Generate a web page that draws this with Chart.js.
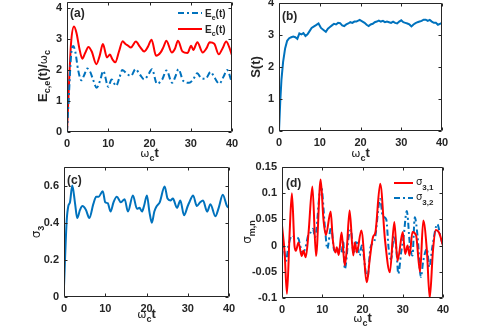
<!DOCTYPE html>
<html>
<head>
<meta charset="utf-8">
<script src="https://cdn.jsdelivr.net/npm/chart.js@4.4.0/dist/chart.umd.min.js"></script>
<style>
    html, body { margin: 0; padding: 0; background: #fff; }
    #wrap { position: relative; width: 491px; height: 330px; }
    #wrap canvas { position: absolute; left: 0; top: 0; }
</style>
</head>
<body>
<div id="wrap">
    <canvas id="chartA" width="491" height="330"></canvas>
    <canvas id="chartB" width="491" height="330"></canvas>
    <canvas id="chartC" width="491" height="330"></canvas>
    <canvas id="chartD" width="491" height="330"></canvas>
</div>
<script>
// eixo x comum
const xTicks = [0, 10, 20, 30, 40];

// (a) energias
const ecT = [0, 0.5, 1, 1.7, 2.3, 3, 3.7, 4.4, 5.2, 6, 7.1, 7.9, 8.7, 9.7, 10.4, 11, 11.7, 12.6, 13.5, 14.1, 14.7, 15.5, 16.7, 17.7, 18.7, 19.6, 20.5, 21.6, 22.7, 23.4, 24.1, 25.4, 26.2, 26.9, 28, 29.2, 30.1, 30.6, 31.6, 32.9, 33.8, 34.6, 35.7, 36.8, 37.7, 38.6, 39.3, 40];
const ecY = [0, 1.6, 2.9, 3.41, 3.2, 2.7, 2.37, 2.55, 2.75, 2.6, 2.19, 2.45, 2.84, 2.41, 2.5, 2.35, 2.25, 2.6, 2.93, 2.85, 2.8, 2.73, 2.92, 2.75, 2.6, 2.75, 2.98, 2.46, 2.57, 2.75, 2.95, 2.57, 2.7, 2.95, 2.6, 2.55, 2.79, 2.65, 2.9, 2.57, 2.7, 2.9, 2.85, 2.51, 2.7, 2.92, 2.75, 2.48];
const eeT = [0, 0.5, 1, 1.5, 2, 2.7, 3.5, 4.2, 4.9, 5.6, 6.3, 7.2, 8, 8.8, 10, 10.8, 11.9, 12.7, 13.4, 14.7, 15.5, 16.6, 17.7, 18.7, 19.7, 20.6, 21.8, 23.1, 24.1, 25.5, 26.3, 27, 28.2, 29.6, 30.6, 31.6, 32.4, 33.6, 34.8, 35.8, 36.9, 38, 38.8, 40];
const eeY = [0, 1.3, 2.5, 2.78, 2.6, 2.0, 1.67, 1.85, 2.05, 1.95, 1.7, 1.43, 1.65, 1.97, 1.46, 1.7, 1.49, 1.75, 2.0, 1.86, 1.81, 2.03, 1.85, 1.7, 1.85, 2.03, 1.56, 1.7, 1.99, 1.59, 1.8, 2.03, 1.65, 1.59, 1.7, 1.9, 1.76, 1.72, 1.94, 1.75, 1.56, 1.8, 2.0, 1.59];
const aTicks = [0, 1, 2, 3, 4];

// (b) entropia
const sT = [0, 0.3, 0.6, 1, 1.5, 2, 2.5, 3, 3.5, 4, 4.5, 5, 5.5, 6, 6.5, 7, 7.5, 8, 8.5, 9, 9.7, 10.3, 11, 11.5, 12, 12.5, 13, 13.5, 14, 14.5, 15, 15.5, 16, 16.5, 17, 17.5, 18, 18.5, 19, 19.8, 20.5, 21, 21.5, 22, 22.5, 23, 23.5, 24, 24.5, 25, 25.5, 26, 26.5, 27, 27.5, 28, 28.5, 29, 29.5, 30, 30.5, 31, 31.5, 32, 32.5, 33, 33.5, 34, 34.5, 35, 35.5, 36, 36.5, 37, 37.5, 38, 38.5, 39, 39.5, 40];
const sY = [0, 0.9, 1.6, 2.15, 2.58, 2.82, 2.9, 2.93, 2.95, 2.93, 2.88, 3.05, 3.02, 3.06, 2.97, 3.02, 3.12, 3.22, 3.26, 3.3, 3.36, 3.22, 3.15, 3.1, 3.2, 3.25, 3.3, 3.35, 3.33, 3.38, 3.37, 3.3, 3.28, 3.33, 3.36, 3.4, 3.38, 3.42, 3.42, 3.47, 3.42, 3.38, 3.32, 3.28, 3.33, 3.35, 3.4, 3.42, 3.45, 3.42, 3.44, 3.4, 3.42, 3.4, 3.38, 3.42, 3.38, 3.36, 3.42, 3.46, 3.4, 3.38, 3.36, 3.33, 3.27, 3.33, 3.37, 3.4, 3.42, 3.44, 3.48, 3.48, 3.44, 3.47, 3.42, 3.38, 3.38, 3.32, 3.35, 3.38];
const bTicks = [0, 1, 2, 3, 4];

// (c) sigma_3
const cT = [0, 0.65, 1.05, 1.45, 2.0, 2.7, 3.2, 3.9, 4.45, 5.3, 6.15, 7.1, 7.8, 8.4, 9.4, 10, 10.6, 11.3, 12, 12.8, 13.8, 14.7, 15.5, 16.7, 17.7, 18.3, 18.9, 19.4, 20.1, 20.7, 21.3, 21.9, 22.5, 23.2, 24.4, 25.1, 25.8, 26.4, 27.4, 28.2, 29.1, 30, 30.4, 31.3, 32.2, 33, 33.7, 34.7, 35.5, 36.7, 37.5, 38.5, 39.5, 40];
const cY = [0.057, 0.41, 0.49, 0.51, 0.60, 0.5, 0.425, 0.47, 0.49, 0.47, 0.425, 0.5, 0.54, 0.54, 0.57, 0.51, 0.505, 0.46, 0.51, 0.54, 0.51, 0.527, 0.46, 0.547, 0.475, 0.48, 0.46, 0.49, 0.547, 0.46, 0.40, 0.46, 0.49, 0.51, 0.595, 0.53, 0.52, 0.53, 0.48, 0.52, 0.44, 0.49, 0.51, 0.547, 0.49, 0.51, 0.52, 0.46, 0.5, 0.435, 0.48, 0.55, 0.49, 0.48];
const cTicks = [0, 0.2, 0.4, 0.6];

// (d) sigma_3,1 e sigma_3,2
const d1T = [0, 0.65, 1.23, 1.9, 2.46, 3.1, 3.45, 4.1, 4.9, 5.3, 5.9, 6.6, 7.55, 8.45, 9.6, 10.3, 10.9, 12.1, 12.6, 13.3, 13.6, 14.1, 14.8, 15.6, 16.1, 16.8, 17.7, 18.1, 18.6, 19.7, 21.1, 21.8, 22.6, 23.2, 24.4, 25.6, 26.8, 27.9, 28.7, 30, 30.6, 31.2, 31.7, 32.4, 33.3, 34.3, 35.1, 36, 36.7, 37.5, 38.2, 39, 40];
const d1Y = [0.038, -0.013, -0.092, 0.025, 0.10, 0, -0.01, 0.006, -0.02, -0.01, -0.022, 0.025, 0.113, -0.02, 0.126, 0.05, 0.02, 0.065, 0.013, -0.013, -0.003, -0.018, 0.025, -0.038, -0.006, 0.067, -0.019, 0.006, -0.013, 0.029, -0.07, -0.026, 0.016, 0.025, 0.118, 0.01, -0.051, 0.045, -0.029, 0.026, -0.016, 0, -0.019, 0.026, 0.02, -0.05, 0.048, -0.01, -0.1, -0.01, 0.03, 0.025, 0];
const d2T = [0, 0.4, 1, 1.6, 2.5, 3.3, 4.1, 4.5, 5.1, 5.75, 6.6, 7.1, 7.7, 8.2, 9.7, 10.7, 11.25, 12.2, 13, 14, 14.8, 15.2, 15.6, 16.6, 17.1, 17.8, 18.5, 19.3, 19.8, 21.2, 22, 23, 24.4, 25, 25.9, 26.5, 27.1, 27.8, 28.4, 28.9, 29.6, 30.2, 31, 31.8, 32.4, 33, 33.7, 34.5, 35.1, 36, 36.6, 37.4, 38.6, 39.4, 40];
const d2Y = [0.016, 0, -0.029, 0, 0.019, 0.016, 0.013, 0, -0.013, -0.006, 0.022, 0.025, 0.032, 0.016, 0.115, 0.032, -0.006, 0.036, -0.01, -0.006, -0.013, 0.01, -0.045, 0.019, 0.03, -0.016, 0.01, -0.019, 0, -0.064, -0.003, 0.01, 0.089, 0.057, 0.05, -0.006, -0.026, 0.019, -0.006, -0.054, -0.013, 0.016, 0.066, 0, -0.019, 0.054, 0.016, -0.06, -0.029, -0.006, -0.041, 0, 0.041, 0.016, 0];
const dTicks = [-0.1, -0.05, 0, 0.05, 0.1, 0.15];

const FONT = "'Liberation Sans', Arial, sans-serif";
const SYM = "'DejaVu Sans', sans-serif";
const INK = '#262626';
const BLUE = '#0072BD';
const RED = '#FF0000';
const DASHDOT = [6, 3, 2, 3];

const B = s => 'bold ' + s + 'px ' + FONT;
const S = s => s + 'px ' + SYM;

function pts(xs, ys) {
    return xs.map((x, i) => ({ x: x, y: ys[i] }));
}

// texto com subscritos, desenhado parte por parte
function drawRich(ctx, parts, x, y, align) {
    let w = 0;
    parts.forEach(p => { ctx.font = p.f; w += ctx.measureText(p.t).width; });
    let cx = align === 'center' ? x - w / 2 : x;
    ctx.textAlign = 'left';
    ctx.textBaseline = 'alphabetic';
    parts.forEach(p => {
        ctx.font = p.f;
        ctx.fillText(p.t, cx, y + (p.dy || 0));
        cx += ctx.measureText(p.t).width;
    });
}

function vertRich(ctx, parts, bx, cy) {
    ctx.save();
    ctx.translate(bx, cy);
    ctx.rotate(-Math.PI / 2);
    drawRich(ctx, parts, 0, 0, 'center');
    ctx.restore();
}

function legendLine(ctx, x1, x2, y, color, dash) {
    ctx.save();
    ctx.strokeStyle = color;
    ctx.lineWidth = 2;
    ctx.setLineDash(dash);
    ctx.beginPath();
    ctx.moveTo(x1, y);
    ctx.lineTo(x2, y);
    ctx.stroke();
    ctx.restore();
}

function xLabel(ctx, cx, y) {
    drawRich(ctx, [
        { t: 'ω', f: S(11) },
        { t: 'c', f: B(9), dy: 4 },
        { t: 't', f: B(13) }
    ], cx, y, 'center');
}

// caixa estilo MATLAB com marcas para dentro nos quatro lados
function drawFrame(chart, yTicks) {
    const { ctx, chartArea: a, scales } = chart;
    const TL = 3;
    const l = Math.round(a.left) + 0.5, r = Math.round(a.right) - 0.5;
    const t = Math.round(a.top) + 0.5, b = Math.round(a.bottom) - 0.5;
    ctx.save();
    ctx.strokeStyle = INK;
    ctx.lineWidth = 1;
    ctx.beginPath();
    ctx.rect(l, t, r - l, b - t);
    xTicks.forEach(v => {
        const px = Math.round(scales.x.getPixelForValue(v)) + 0.5;
        ctx.moveTo(px, b); ctx.lineTo(px, b - TL);
        ctx.moveTo(px, t); ctx.lineTo(px, t + TL);
    });
    yTicks.forEach(v => {
        const py = Math.round(scales.y.getPixelForValue(v)) + 0.5;
        ctx.moveTo(l, py); ctx.lineTo(l + TL, py);
        ctx.moveTo(r, py); ctx.lineTo(r - TL, py);
    });
    ctx.stroke();
    ctx.restore();
}

function makePanel(id, box, yMin, yMax, yTicks, datasets, deco) {
    const YW = 40, XH = 20;
    return new Chart(document.getElementById(id), {
        type: 'line',
        data: { datasets: datasets },
        options: {
            responsive: false,
            animation: false,
            events: [],
            layout: { padding: { left: box.l - YW, top: box.t, right: 491 - box.r, bottom: 330 - box.b - XH } },
            plugins: { legend: { display: false }, tooltip: { enabled: false } },
            elements: {
                point: { radius: 0 },
                line: { cubicInterpolationMode: 'monotone', borderWidth: 2 }
            },
            scales: {
                x: {
                    type: 'linear', min: 0, max: 40,
                    grid: { display: false, drawTicks: false }, border: { display: false },
                    afterBuildTicks: s => { s.ticks = xTicks.map(v => ({ value: v })); },
                    afterFit: s => { s.height = XH; s.paddingLeft = 0; s.paddingRight = 0; },
                    ticks: { color: INK, font: { family: FONT, size: 11, weight: 'bold' }, padding: 5, maxRotation: 0, autoSkip: false }
                },
                y: {
                    type: 'linear', min: yMin, max: yMax,
                    grid: { display: false, drawTicks: false }, border: { display: false },
                    afterBuildTicks: s => { s.ticks = yTicks.map(v => ({ value: v })); },
                    afterFit: s => { s.width = YW; s.paddingTop = 0; s.paddingBottom = 0; },
                    ticks: {
                        color: INK, font: { family: FONT, size: 11, weight: 'bold' }, padding: 5,
                        callback: v => String(Math.round(v * 100) / 100)
                    }
                }
            }
        },
        plugins: [{
            id: 'deco_' + id,
            afterDraw(chart) {
                drawFrame(chart, yTicks);
                const ctx = chart.ctx;
                ctx.save();
                ctx.fillStyle = INK;
                deco(ctx, chart.chartArea);
                ctx.restore();
            }
        }]
    });
}

makePanel('chartA', { l: 67, t: 2, r: 232, b: 132 }, 0, 4.2, aTicks, [
    { data: pts(eeT, eeY), borderColor: BLUE, borderDash: DASHDOT },
    { data: pts(ecT, ecY), borderColor: RED }
], (ctx, a) => {
    drawRich(ctx, [{ t: '(a)', f: B(12) }], 70, 17);
    xLabel(ctx, (a.left + a.right) / 2, a.bottom + 25);
    vertRich(ctx, [
        { t: 'E', f: B(13) }, { t: 'c,e', f: B(9), dy: 3 }, { t: '(t)/', f: B(13) },
        { t: 'ω', f: S(11) }, { t: 'c', f: B(9), dy: 3 }
    ], 47, 76);
    legendLine(ctx, 178, 202, 13, BLUE, DASHDOT);
    drawRich(ctx, [{ t: 'E', f: B(10) }, { t: 'e', f: B(7), dy: 3 }, { t: '(t)', f: B(10) }], 205, 17);
    legendLine(ctx, 178, 202, 29, RED, []);
    drawRich(ctx, [{ t: 'E', f: B(10) }, { t: 'c', f: B(7), dy: 3 }, { t: '(t)', f: B(10) }], 205, 33);
});

makePanel('chartB', { l: 279, t: 3, r: 442, b: 131 }, 0, 4, bTicks, [
    { data: pts(sT, sY), borderColor: BLUE, cubicInterpolationMode: 'default', tension: 0 }
], (ctx, a) => {
    drawRich(ctx, [{ t: '(b)', f: B(12) }], 282, 20);
    xLabel(ctx, (a.left + a.right) / 2, a.bottom + 26);
    vertRich(ctx, [{ t: 'S(t)', f: B(13) }], 260, 67);
});

makePanel('chartC', { l: 64, t: 167, r: 229, b: 297 }, 0, 0.7, cTicks, [
    { data: pts(cT, cY), borderColor: BLUE }
], (ctx, a) => {
    drawRich(ctx, [{ t: '(c)', f: B(12) }], 67, 184);
    xLabel(ctx, (a.left + a.right) / 2, a.bottom + 21);
    vertRich(ctx, [{ t: 'σ', f: S(12) }, { t: '3', f: B(9), dy: 4 }], 40, 232);
});

makePanel('chartD', { l: 282, t: 167, r: 443, b: 298 }, -0.1, 0.15, dTicks, [
    { data: pts(d1T, d1Y), borderColor: RED },
    { data: pts(d2T, d2Y), borderColor: BLUE, borderDash: DASHDOT }
], (ctx, a) => {
    drawRich(ctx, [{ t: '(d)', f: B(12) }], 286, 187);
    xLabel(ctx, (a.left + a.right) / 2, a.bottom + 24);
    vertRich(ctx, [{ t: 'σ', f: S(12) }, { t: 'm,n', f: B(9), dy: 4 }], 251, 232);
    legendLine(ctx, 394, 413, 183, RED, []);
    drawRich(ctx, [{ t: 'σ', f: S(10) }, { t: '3,1', f: B(8), dy: 5 }], 416, 185);
    legendLine(ctx, 394, 413, 198, BLUE, DASHDOT);
    drawRich(ctx, [{ t: 'σ', f: S(10) }, { t: '3,2', f: B(8), dy: 5 }], 416, 200);
});
</script>
</body>
</html>
